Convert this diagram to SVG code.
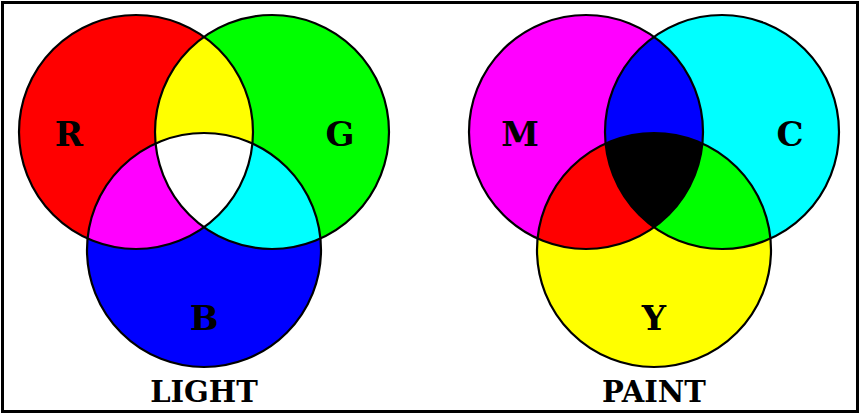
<svg xmlns="http://www.w3.org/2000/svg" width="860" height="414" viewBox="0 0 860 414">
<style>
.ol{fill:none;stroke:#000;stroke-width:2.2}
.lbl{font-family:"DejaVu Serif","Liberation Serif",serif;font-weight:bold;fill:#000;text-anchor:middle}
.big{font-size:34px}
.cap{font-size:29px}
</style>
<defs>
<clipPath id="cR"><circle cx="136" cy="132" r="117"/></clipPath>
<clipPath id="cG"><circle cx="272" cy="132" r="117"/></clipPath>
<clipPath id="cB"><circle cx="204" cy="250" r="117"/></clipPath>
<clipPath id="cM"><circle cx="586" cy="132" r="117"/></clipPath>
<clipPath id="cC"><circle cx="722" cy="132" r="117"/></clipPath>
<clipPath id="cY"><circle cx="654" cy="250" r="117"/></clipPath>
</defs>
<rect x="0" y="0" width="860" height="414" fill="#fff"/>
<rect x="2.5" y="2.5" width="855" height="409" fill="none" stroke="#000" stroke-width="3"/>

<g id="light">
  <g id="light-fills">
    <circle cx="136" cy="132" r="117" fill="#ff0000"/>
    <circle cx="272" cy="132" r="117" fill="#00ff00"/>
    <circle cx="204" cy="250" r="117" fill="#0000ff"/>
    <circle cx="272" cy="132" r="117" fill="#ffff00" clip-path="url(#cR)"/>
    <circle cx="204" cy="250" r="117" fill="#ff00ff" clip-path="url(#cR)"/>
    <circle cx="204" cy="250" r="117" fill="#00ffff" clip-path="url(#cG)"/>
    <g clip-path="url(#cR)"><circle cx="204" cy="250" r="117" fill="#ffffff" clip-path="url(#cG)"/></g>
  </g>
  <g id="node-R"><circle class="ol" cx="136" cy="132" r="117"/><text class="lbl big" x="69" y="146">R</text></g>
  <g id="node-G"><circle class="ol" cx="272" cy="132" r="117"/><text class="lbl big" x="340" y="146">G</text></g>
  <g id="node-B"><circle class="ol" cx="204" cy="250" r="117"/><text class="lbl big" x="204" y="330">B</text></g>
  <text id="label-light" class="lbl cap" x="204" y="402">LIGHT</text>
</g>

<g id="paint">
  <g id="paint-fills">
    <circle cx="586" cy="132" r="117" fill="#ff00ff"/>
    <circle cx="722" cy="132" r="117" fill="#00ffff"/>
    <circle cx="654" cy="250" r="117" fill="#ffff00"/>
    <circle cx="722" cy="132" r="117" fill="#0000ff" clip-path="url(#cM)"/>
    <circle cx="654" cy="250" r="117" fill="#ff0000" clip-path="url(#cM)"/>
    <circle cx="654" cy="250" r="117" fill="#00ff00" clip-path="url(#cC)"/>
    <g clip-path="url(#cM)"><circle cx="654" cy="250" r="117" fill="#000000" clip-path="url(#cC)"/></g>
  </g>
  <g id="node-M"><circle class="ol" cx="586" cy="132" r="117"/><text class="lbl big" x="520" y="146">M</text></g>
  <g id="node-C"><circle class="ol" cx="722" cy="132" r="117"/><text class="lbl big" x="790" y="146">C</text></g>
  <g id="node-Y"><circle class="ol" cx="654" cy="250" r="117"/><text class="lbl big" x="654" y="330">Y</text></g>
  <text id="label-paint" class="lbl cap" x="654" y="402">PAINT</text>
</g>
<g id="connectors"/>
</svg>
